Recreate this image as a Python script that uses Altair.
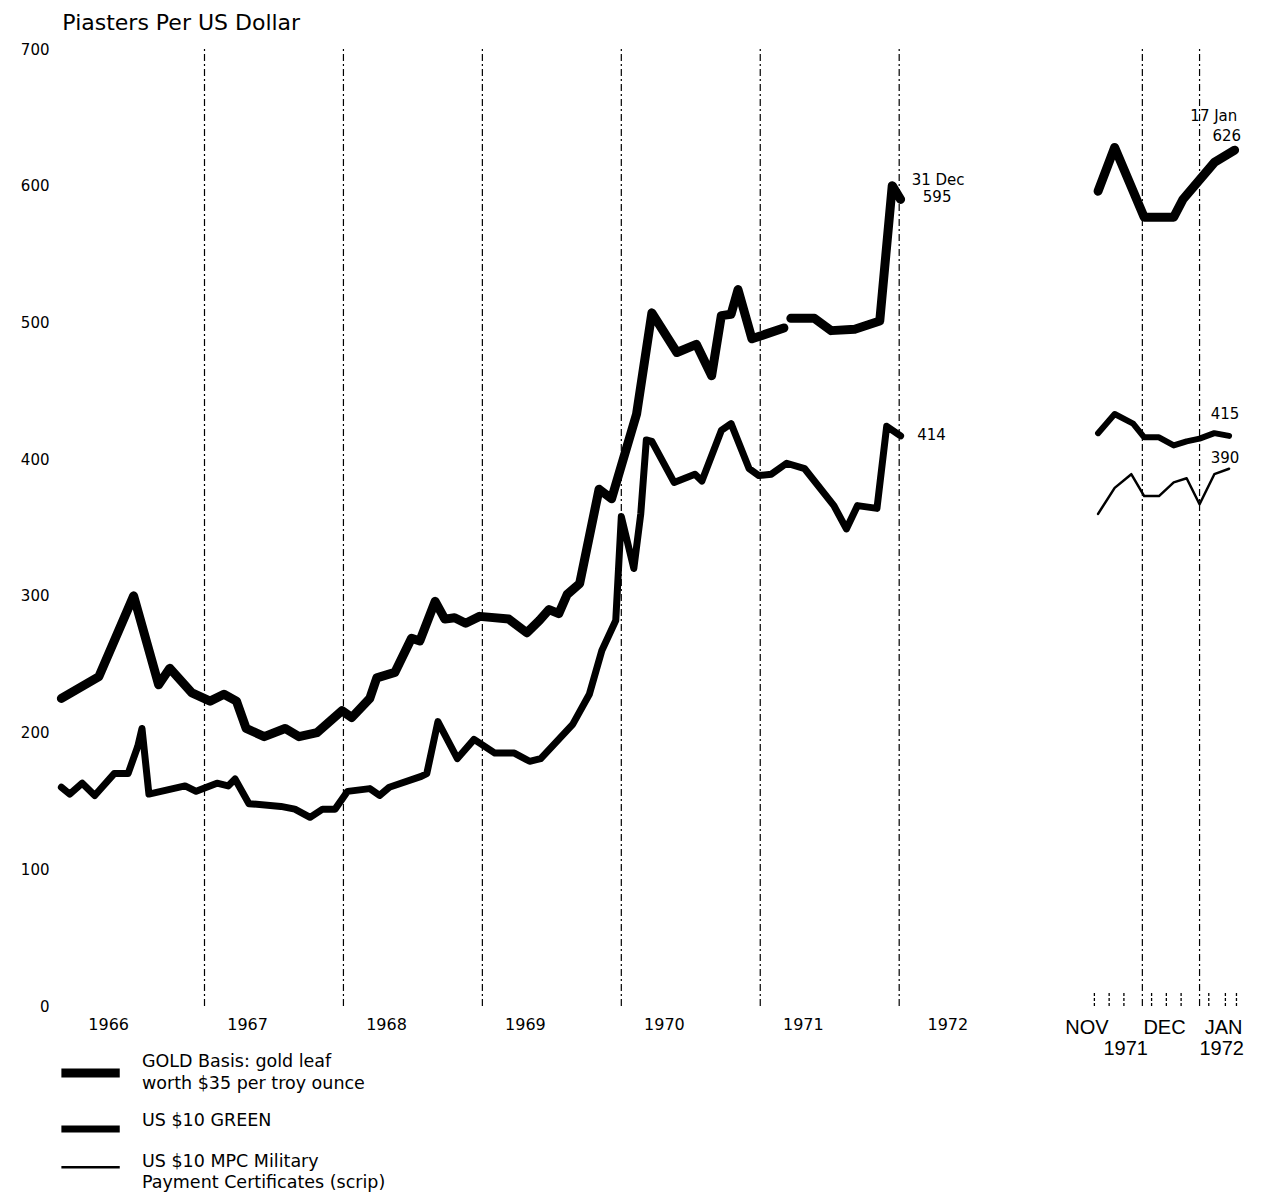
import altair as alt
import pandas as pd

FONT = "DejaVu Sans"
FONT_NARROW = "Liberation Sans"

# ---- series / legend ----
SERIES = ["GOLD", "GREEN", "MPC"]
WIDTHS = [9, 7, 2.5]
legend_label_lines = ["GOLD Basis: gold leaf", "worth $35 per troy ounce",
                      "US $10 GREEN",
                      "US $10 MPC Military", "Payment Certificates (scrip)"]
legend_label_v = [-41.3, -56.7, -84, -114.3, -129.7]
legend_swatch_v = [-49, -90, -118]

# ---- main panel, 1966-1971 (decimal years) ----
gold_t = [1965.97, 1966.24, 1966.49, 1966.67, 1966.75, 1966.91, 1967.04, 1967.14, 1967.23, 1967.30,
          1967.43, 1967.58, 1967.68, 1967.81, 1967.99, 1968.06, 1968.19, 1968.24, 1968.37, 1968.49,
          1968.55, 1968.66, 1968.73, 1968.80, 1968.88, 1968.98, 1969.19, 1969.32, 1969.41, 1969.48,
          1969.55, 1969.61, 1969.70, 1969.84, 1969.93, 1970.11, 1970.22, 1970.40, 1970.54, 1970.65,
          1970.72, 1970.79, 1970.84, 1970.94, 1971.17, 1971.22, 1971.39, 1971.51, 1971.68, 1971.86,
          1971.95, 1972.01]
gold_v = [225, 241, 300, 235, 247, 229, 223, 228, 223, 203,
          197, 203, 197, 200, 216, 211, 225, 240, 244, 269,
          267, 296, 283, 284, 280, 285, 283, 273, 282, 290,
          287, 301, 309, 378, 371, 433, 507, 478, 484, 461,
          505, 506, 524, 488, 496, 503, 503, 494, 495, 501,
          600, 590]
gold_seg = [0] * 45 + [1] * 7

green_t = [1965.97, 1966.03, 1966.12, 1966.21, 1966.35, 1966.45, 1966.52, 1966.55, 1966.60, 1966.86,
           1966.94, 1967.09, 1967.17, 1967.22, 1967.32, 1967.55, 1967.65, 1967.76, 1967.85, 1967.94,
           1968.03, 1968.19, 1968.26, 1968.33, 1968.56, 1968.60, 1968.68, 1968.82, 1968.94, 1969.09,
           1969.23, 1969.34, 1969.42, 1969.65, 1969.77, 1969.86, 1969.96, 1970.00, 1970.09, 1970.14,
           1970.18, 1970.22, 1970.38, 1970.53, 1970.58, 1970.72, 1970.79, 1970.92, 1970.99, 1971.08,
           1971.19, 1971.32, 1971.53, 1971.62, 1971.70, 1971.84, 1971.91, 1972.01]
green_v = [160, 155, 163, 154, 170, 170, 190, 203, 155, 161,
           157, 163, 161, 166, 148, 146, 144, 138, 144, 144,
           157, 159, 154, 160, 168, 170, 208, 181, 195, 185,
           185, 179, 181, 206, 228, 260, 282, 358, 320, 360,
           414, 413, 383, 389, 384, 421, 426, 393, 388, 389,
           397, 393, 366, 349, 366, 364, 424, 417]

year_lines = [1967, 1968, 1969, 1970, 1971, 1972]
year_labels = ["1966", "1967", "1968", "1969", "1970", "1971", "1972"]
year_label_pos = [1966.31, 1967.31, 1968.31, 1969.31, 1970.31, 1971.31, 1972.35]

main_notes_text = ["31 Dec", "595", "414"]
main_notes_t = [1972.09, 1972.17, 1972.13]
main_notes_v = [604, 592, 418]

# ---- right panel, Nov 1971 - Jan 1972 ----
r_gold_d = ["1971-11-07", "1971-11-16", "1971-12-02", "1971-12-18", "1971-12-23", "1972-01-09", "1972-01-20"]
r_gold_v = [596, 628, 577, 577, 590, 617, 626]
r_green_d = ["1971-11-07", "1971-11-16", "1971-11-26", "1971-12-02", "1971-12-10",
             "1971-12-18", "1971-12-25", "1972-01-01", "1972-01-09", "1972-01-17"]
r_green_v = [419, 433, 426, 416, 416, 410, 413, 415, 419, 417]
r_mpc_d = ["1971-11-07", "1971-11-16", "1971-11-25", "1971-12-02", "1971-12-10",
           "1971-12-18", "1971-12-25", "1972-01-01", "1972-01-09", "1972-01-17"]
r_mpc_v = [360, 379, 389, 373, 373, 383, 386, 367, 389, 393]

month_lines = ["1971-12-01", "1972-01-01"]
week_ticks = ["1971-11-05", "1971-11-13", "1971-11-21", "1971-12-06", "1971-12-14",
              "1971-12-22", "1972-01-06", "1972-01-15", "1972-01-21"]
month_labels = ["NOV", "DEC", "JAN"]
month_label_d = ["1971-11-01", "1971-12-13", "1972-01-14"]
year_row_labels = ["1971", "1972"]
year_row_d = ["1971-11-22", "1972-01-13"]

right_notes_text = ["17 Jan", "626", "415", "390"]
right_notes_d = ["1971-12-27", "1972-01-08", "1972-01-07", "1972-01-07"]
right_notes_v = [651, 636, 433, 401]

PERIOD_START = "1971-11-01"
PERIOD_END = "1972-01-24"

# ---------------------------------------------------------------------------
PLOT_H = 957
LEFT_W = 942
RIGHT_W = 155


def day_index(dates):
    return [int((pd.Timestamp(d) - pd.Timestamp(PERIOD_START)).days) for d in dates]


y_scale = alt.Scale(domain=[0, 700], nice=False)
x_main = alt.Scale(domain=[1965.96, 1972.74], nice=False, zero=False)
x_right = alt.Scale(domain=[0, day_index([PERIOD_END])[0]], nice=False, zero=False)

Y_AXIS = alt.Axis(values=list(range(0, 701, 100)), title=None, domain=False, ticks=False, grid=False,
                  labelFontSize=15, labelPadding=11, labelColor="black", labelFont=FONT)


def line_layer(df, xf, xs, width, y_axis):
    return alt.Chart(df).mark_line(
        color="black", strokeJoin="round", strokeCap="round", strokeWidth=width
    ).encode(
        x=alt.X(xf, scale=xs, axis=None),
        y=alt.Y("v:Q", scale=y_scale, axis=y_axis),
        detail="key:N",
    )


def text_layer(xs_vals, vs, texts, xs, size, y_axis, align="left", font=FONT):
    df = pd.DataFrame({"x": xs_vals, "v": vs, "txt": texts})
    return alt.Chart(df).mark_text(
        align=align, baseline="middle", fontSize=size, font=font, color="black"
    ).encode(x=alt.X("x:Q", scale=xs, axis=None), y=alt.Y("v:Q", scale=y_scale, axis=y_axis), text="txt:N")


def vrule_layer(xs_vals, xs, y_axis):
    df = pd.DataFrame({"x": xs_vals, "lo": [0] * len(xs_vals), "hi": [700] * len(xs_vals)})
    return alt.Chart(df).mark_rule(color="black", strokeWidth=1.2, strokeDash=[7, 3, 2, 3]).encode(
        x=alt.X("x:Q", scale=xs, axis=None), y=alt.Y("lo:Q", scale=y_scale, axis=y_axis), y2="hi:Q")


# ---- left panel ----
gold_df = pd.DataFrame({"t": gold_t, "v": gold_v, "key": [f"g{s}" for s in gold_seg]})
green_df = pd.DataFrame({"t": green_t, "v": green_v, "key": ["n"] * len(green_t)})

sw_x0, sw_x1, lab_x = 1965.97, 1966.39, 1966.55
legend_sw = [
    alt.Chart(pd.DataFrame({"x0": [sw_x0], "x1": [sw_x1], "v": [legend_swatch_v[i]]})).mark_rule(
        color="black", strokeCap="butt", strokeWidth=WIDTHS[i]
    ).encode(x=alt.X("x0:Q", scale=x_main, axis=None), x2="x1:Q",
             y=alt.Y("v:Q", scale=y_scale, axis=Y_AXIS))
    for i in range(3)
]

left = alt.layer(
    vrule_layer(year_lines, x_main, Y_AXIS),
    line_layer(gold_df, "t:Q", x_main, WIDTHS[0], Y_AXIS),
    line_layer(green_df, "t:Q", x_main, WIDTHS[1], Y_AXIS),
    text_layer(main_notes_t, main_notes_v, main_notes_text, x_main, 15, Y_AXIS),
    text_layer(year_label_pos, [-14] * len(year_labels), year_labels, x_main, 16, Y_AXIS, "center"),
    *legend_sw,
    text_layer([lab_x] * len(legend_label_lines), legend_label_v, legend_label_lines, x_main, 17.5, Y_AXIS),
).properties(
    width=LEFT_W, height=PLOT_H,
    title=alt.TitleParams("Piasters Per US Dollar", anchor="start", dx=42,
                          fontSize=22, fontWeight="normal", font=FONT, color="black", offset=7),
)

# ---- right panel ----
rg = pd.DataFrame({"d": day_index(r_gold_d), "v": r_gold_v, "key": ["g"] * len(r_gold_d)})
rn = pd.DataFrame({"d": day_index(r_green_d), "v": r_green_v, "key": ["n"] * len(r_green_d)})
rm = pd.DataFrame({"d": day_index(r_mpc_d), "v": r_mpc_v, "key": ["m"] * len(r_mpc_d)})

tick_df = pd.DataFrame({"x": day_index(week_ticks), "lo": [0] * len(week_ticks), "hi": [11] * len(week_ticks)})
tick_rules = alt.Chart(tick_df).mark_rule(color="black", strokeWidth=1.3, strokeDash=[3, 2]).encode(
    x=alt.X("x:Q", scale=x_right, axis=None), y=alt.Y("lo:Q", scale=y_scale, axis=None), y2="hi:Q")

right = alt.layer(
    vrule_layer(day_index(month_lines), x_right, None),
    tick_rules,
    line_layer(rg, "d:Q", x_right, WIDTHS[0], None),
    line_layer(rn, "d:Q", x_right, WIDTHS[1] - 1, None),
    line_layer(rm, "d:Q", x_right, WIDTHS[2], None),
    text_layer(day_index(right_notes_d), right_notes_v, right_notes_text, x_right, 15, None),
    text_layer(day_index(month_label_d), [-16] * 3, month_labels, x_right, 20, None, "center", FONT_NARROW),
    text_layer(day_index(year_row_d), [-31.5] * 2, year_row_labels, x_right, 20, None, "center", FONT_NARROW),
).properties(width=RIGHT_W, height=PLOT_H)

chart = alt.hconcat(left, right, spacing=63).properties(
    padding={"left": 12, "top": 4, "right": 5, "bottom": 0}
).configure_view(stroke=None)

chart.save("out.html", embed_options={"renderer": "svg", "actions": False})
